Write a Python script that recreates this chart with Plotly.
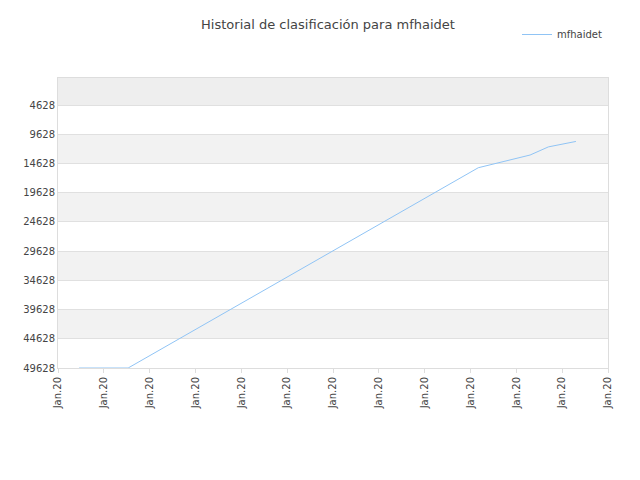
import plotly.graph_objects as go

x_vals = [0.46, 1.53, 9.17, 10.3, 10.7, 11.3]
y_vals = [49628, 49628, 15354, 13183, 11787, 10856]
tick_vals = list(range(13))
tick_text = ["Jan.20"] * 13
y_ticks = [4628, 9628, 14628, 19628, 24628, 29628, 34628, 39628, 44628, 49628]
y_text = [str(v) for v in y_ticks]

fig = go.Figure()
fig.add_trace(go.Scatter(x=x_vals, y=y_vals, mode="lines", name="mfhaidet",
                         showlegend=True,
                         line=dict(color="#90c4f5", width=1)))
bounds = [0] + y_ticks
shapes = []
for i in range(len(bounds) - 1):
    if i % 2 == 0:
        shapes.append(dict(type="rect", xref="paper", yref="y", x0=0, x1=1,
                           y0=bounds[i], y1=bounds[i + 1],
                           fillcolor="#eeeeee" if i == 0 else "#f2f2f2",
                           line=dict(width=0), layer="below"))
fig.update_layout(
    width=640, height=480, shapes=shapes,
    title=dict(text="Historial de clasificación para mfhaidet", x=0.5, xanchor="center",
               y=0.975, font=dict(size=13, color="#444", family="DejaVu Sans")),
    margin=dict(l=50, r=40, t=40, b=120),
    plot_bgcolor="white", paper_bgcolor="white",
    font=dict(family="DejaVu Sans", size=10, color="#444"),
    showlegend=True,
    legend=dict(x=1.0, y=1.1, xanchor="right", yanchor="bottom",
                font=dict(size=10), bgcolor="rgba(0,0,0,0)"),
    xaxis=dict(range=[0, 12], tickvals=tick_vals, ticktext=tick_text,
               tickangle=-90, showgrid=False, showline=True, linecolor="#ddd",
               ticks="outside", ticklen=4, tickcolor="#ddd", zeroline=False,
               automargin=False, mirror=True),
    yaxis=dict(range=[49628, 0], tickvals=y_ticks, ticktext=y_text, showgrid=True,
               gridcolor="#e0e0e0", zeroline=False, showline=True,
               linecolor="#ddd", mirror=True, automargin=False),
)
fig.write_html("out.html")
